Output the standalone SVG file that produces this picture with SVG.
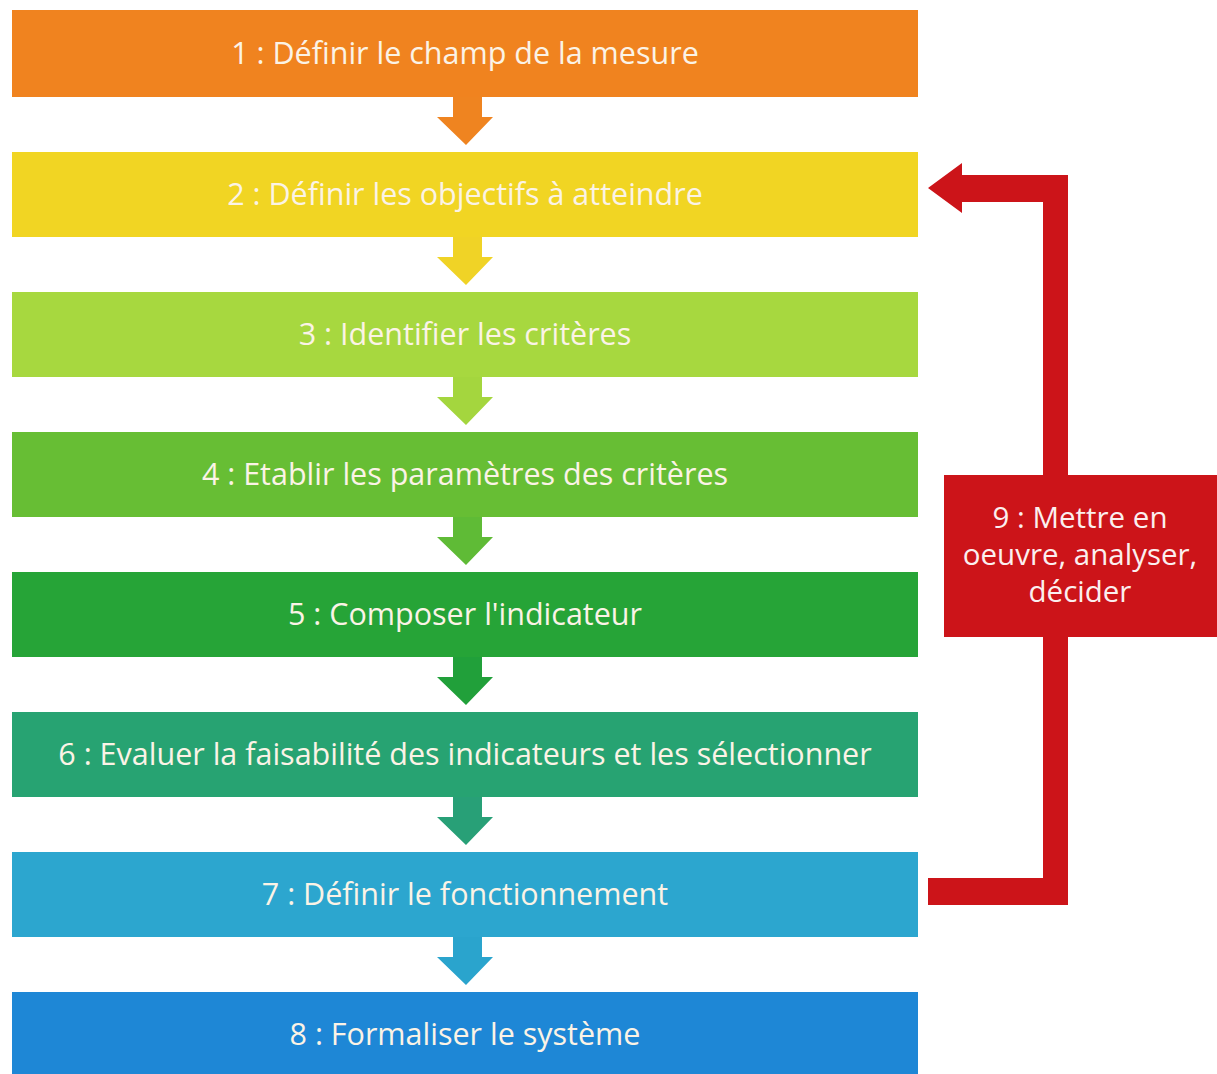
<svg xmlns="http://www.w3.org/2000/svg" width="1217" height="1074" viewBox="0 0 1217 1074">
<style>
.lbl{font-family:"Open Sans","Liberation Sans",sans-serif;font-size:30.5px;fill:#FBF3E6;text-anchor:middle}
.lbl9{font-family:"Open Sans","Liberation Sans",sans-serif;font-size:29.5px;fill:#FBEFEF;text-anchor:middle}
</style>
<rect width="1217" height="1074" fill="#ffffff"/>
<g id="connectors">
<path d="M453 96 H482 V117 H493 L466 145 L437 117 H453 Z" fill="#EF8420"/>
<path d="M453 236 H482 V257 H493 L466 285 L437 257 H453 Z" fill="#F0D326"/>
<path d="M453 376 H482 V397 H493 L466 425 L437 397 H453 Z" fill="#A4D63E"/>
<path d="M453 516 H482 V537 H493 L466 565 L437 537 H453 Z" fill="#5FBB36"/>
<path d="M453 656 H482 V677 H493 L466 705 L437 677 H453 Z" fill="#21A03A"/>
<path d="M453 796 H482 V817 H493 L466 845 L437 817 H453 Z" fill="#28A077"/>
<path d="M453 936 H482 V957 H493 L466 985 L437 957 H453 Z" fill="#2AA4CD"/>
<path d="M928 878 H1043 V637 H1068 V905 H928 Z" fill="#CC1419"/>
<path d="M1068 475 V175 H962 V163 L928 188 L962 213 V202 H1043 V475 Z" fill="#CC1419"/>
</g>
<g id="n1"><rect x="12" y="10" width="906" height="87" fill="#F0831F"/><text class="lbl" x="465" y="64">1 : Définir le champ de la mesure</text></g>
<g id="n2"><rect x="12" y="152" width="906" height="85" fill="#F1D523"/><text class="lbl" x="465" y="205">2 : Définir les objectifs à atteindre</text></g>
<g id="n3"><rect x="12" y="292" width="906" height="85" fill="#A7D83F"/><text class="lbl" x="465" y="345">3 : Identifier les critères</text></g>
<g id="n4"><rect x="12" y="432" width="906" height="85" fill="#67BE34"/><text class="lbl" x="465" y="485">4 : Etablir les paramètres des critères</text></g>
<g id="n5"><rect x="12" y="572" width="906" height="85" fill="#26A437"/><text class="lbl" x="465" y="625">5 : Composer l'indicateur</text></g>
<g id="n6"><rect x="12" y="712" width="906" height="85" fill="#27A372"/><text class="lbl" x="465" y="765">6 : Evaluer la faisabilité des indicateurs et les sélectionner</text></g>
<g id="n7"><rect x="12" y="852" width="906" height="85" fill="#2CA6CF"/><text class="lbl" x="465" y="905">7 : Définir le fonctionnement</text></g>
<g id="n8"><rect x="12" y="992" width="906" height="82" fill="#1E87D6"/><text class="lbl" x="465" y="1045">8 : Formaliser le système</text></g>
<g id="n9"><rect x="944" y="475" width="273" height="162" fill="#CC1419"/>
<text class="lbl9" x="1080" y="528">9 : Mettre en</text>
<text class="lbl9" x="1080" y="565">oeuvre, analyser,</text>
<text class="lbl9" x="1080" y="602">décider</text></g>
</svg>
